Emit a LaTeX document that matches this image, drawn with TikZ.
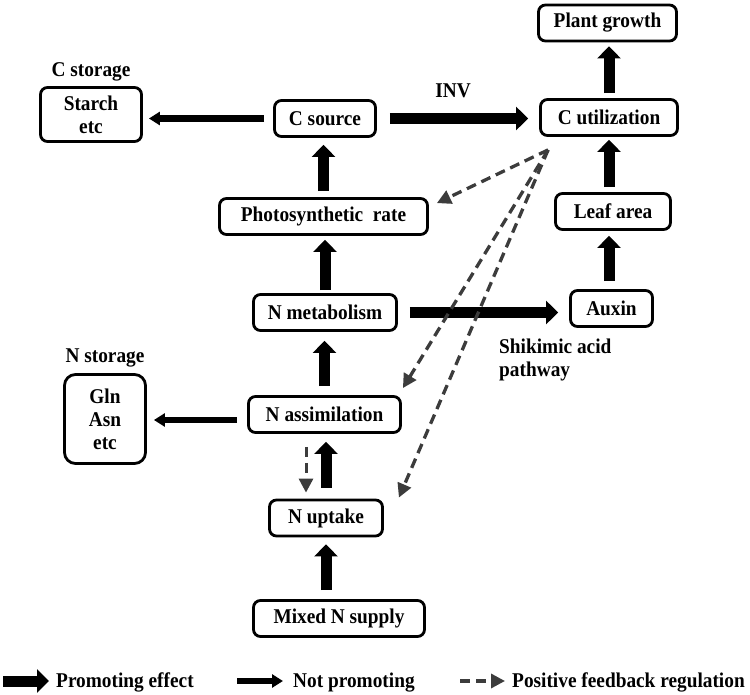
\documentclass[tikz,border=0pt]{standalone}
\usepackage{fontspec}
\setmainfont[FakeStretch=0.92]{Liberation Serif}
\usetikzlibrary{arrows.meta,positioning}

\definecolor{fbgray}{HTML}{3C3C3C}

\tikzset{
  box/.style={draw, rounded corners=7pt, line width=2.8pt, minimum height=36pt, align=center,
    font=\bfseries\fontsize{21}{23}\selectfont},
  lbl/.style={font=\bfseries\fontsize{21}{23}\selectfont, align=left},
  promote/.style={line width=11pt, -{Triangle[length=12pt,width=23pt]}},
  notprom/.style={line width=6.5pt, -{Triangle[length=11pt,width=13pt]}},
  feedback/.style={line width=3.3pt, dash pattern=on 10pt off 6pt, draw=fbgray, -{Triangle[length=14pt,width=14pt]}},
}

\begin{document}
\begin{tikzpicture}[x=1pt, y=-1pt]
	\useasboundingbox (0,0) rectangle (750,695);
	% boxes
	\node[box, minimum width=138pt] (plant) at (607.5,23) {Plant growth};
	\node[box, minimum width=137pt] (cutil) at (609,117.5) {C utilization};
	\node[box, minimum width=115pt] (leaf) at (613,211.5) {Leaf area};
	\node[box, minimum width=82pt] (auxin) at (611.5,308.5) {Auxin};
	\node[box, minimum width=101pt, minimum height=54pt] (starch) at (91,114.5) {Starch\\etc};
	\node[box, minimum width=101pt] (csource) at (325,118.5) {C source};
	\node[box, minimum width=208pt] (photo) at (323.5,216.5) {Photosynthetic\ \ rate};
	\node[box, minimum width=143pt] (nmetab) at (325,312.5) {N metabolism};
	\node[box, minimum width=152pt] (nassim) at (324.5,414.5) {N assimilation};
	\node[box, minimum width=81pt, minimum height=89pt, rounded corners=11pt] (gln) at (105,419) {Gln\\Asn\\etc};
	\node[box, minimum width=113pt] (nup) at (326,518) {N uptake};
	\node[box, minimum width=171pt] (mixed) at (339,618.5) {Mixed N supply};
	% labels
	\node[lbl, above=1pt of starch] (cstore) {C storage};
	\node[lbl, above=2pt of gln] (nstore) {N storage};
	\node[lbl, anchor=north west] (shik) at (495.7,335) {Shikimic acid\\pathway};

	% promoting
	\draw[promote, shorten <=6pt, shorten >=7pt] (photo.north) -- (photo.north |- csource.south);
	\draw[promote, shorten <=3pt, shorten >=4pt] (nmetab.north) -- (nmetab.north |- photo.south);
	\draw[promote, shorten <=9pt, shorten >=9pt] (nassim.north) -- (nassim.north |- nmetab.south);
	\draw[promote, shorten <=11pt, shorten >=8pt] (nup.north) -- (nup.north |- nassim.south);
	\draw[promote, shorten <=9pt, shorten >=7pt] (nup.south |- mixed.north) -- (nup.south);
	\draw[promote, shorten <=5pt, shorten >=4pt] (cutil.north) -- (cutil.north |- plant.south);
	\draw[promote, shorten <=5pt, shorten >=3pt] (cutil.south |- leaf.north) -- (cutil.south);
	\draw[promote, shorten <=8pt, shorten >=5pt] (cutil.south |- auxin.north) -- (cutil.south |- leaf.south);
	\draw[promote, shorten <=13pt, shorten >=11pt] (csource.east) -- (csource.east -| cutil.west)
		node[midway, above=12pt, xshift=-5pt, lbl] {INV};
	\draw[promote, shorten <=12pt, shorten >=11pt] (nmetab.east) -- (nmetab.east -| auxin.west);

	% not promoting
	\draw[notprom, shorten <=9pt, shorten >=6pt] (csource.west) -- (csource.west -| starch.east);
	\draw[notprom, shorten <=10pt, shorten >=7pt] ([yshift=-5.5pt]nassim.west) -- ([yshift=-5.5pt]nassim.west -| gln.east);

	% feedback
	\coordinate (fb) at ([xshift=9pt,yshift=-13pt]cutil.south west);
	\draw[feedback] (fb) -- ([xshift=8pt,yshift=-6pt]photo.north east);
	\draw[feedback] (fb) -- ([xshift=1pt,yshift=7pt]nassim.north east);
	\draw[feedback] (fb) -- ([xshift=15pt,yshift=1pt]nup.north east);
	\draw[feedback, line width=3pt, shorten <=13pt, shorten >=6pt] ([xshift=-18.5pt]nassim.south) -- ([xshift=-18.5pt]nassim.south |- nup.north);

	% legend
	\coordinate (lg1) at (3,681);
	\coordinate (lg2) at (237,681);
	\coordinate (lg3) at (460,681);
	\node[lbl, inner sep=0pt, anchor=base west] (t1) at (56,687) {Promoting effect};
	\node[lbl, inner sep=0pt, anchor=base west] (t2) at (293,687) {Not promoting};
	\node[lbl, inner sep=0pt, anchor=base west] (t3) at (512,687) {Positive feedback regulation};
	\draw[promote, shorten >=7pt] (lg1) -- (lg1 -| t1.west);
	\draw[notprom, shorten >=10pt] (lg2) -- (lg2 -| t2.west);
	\draw[feedback, shorten >=7pt] (lg3) -- (lg3 -| t3.west);
\end{tikzpicture}
\end{document}
